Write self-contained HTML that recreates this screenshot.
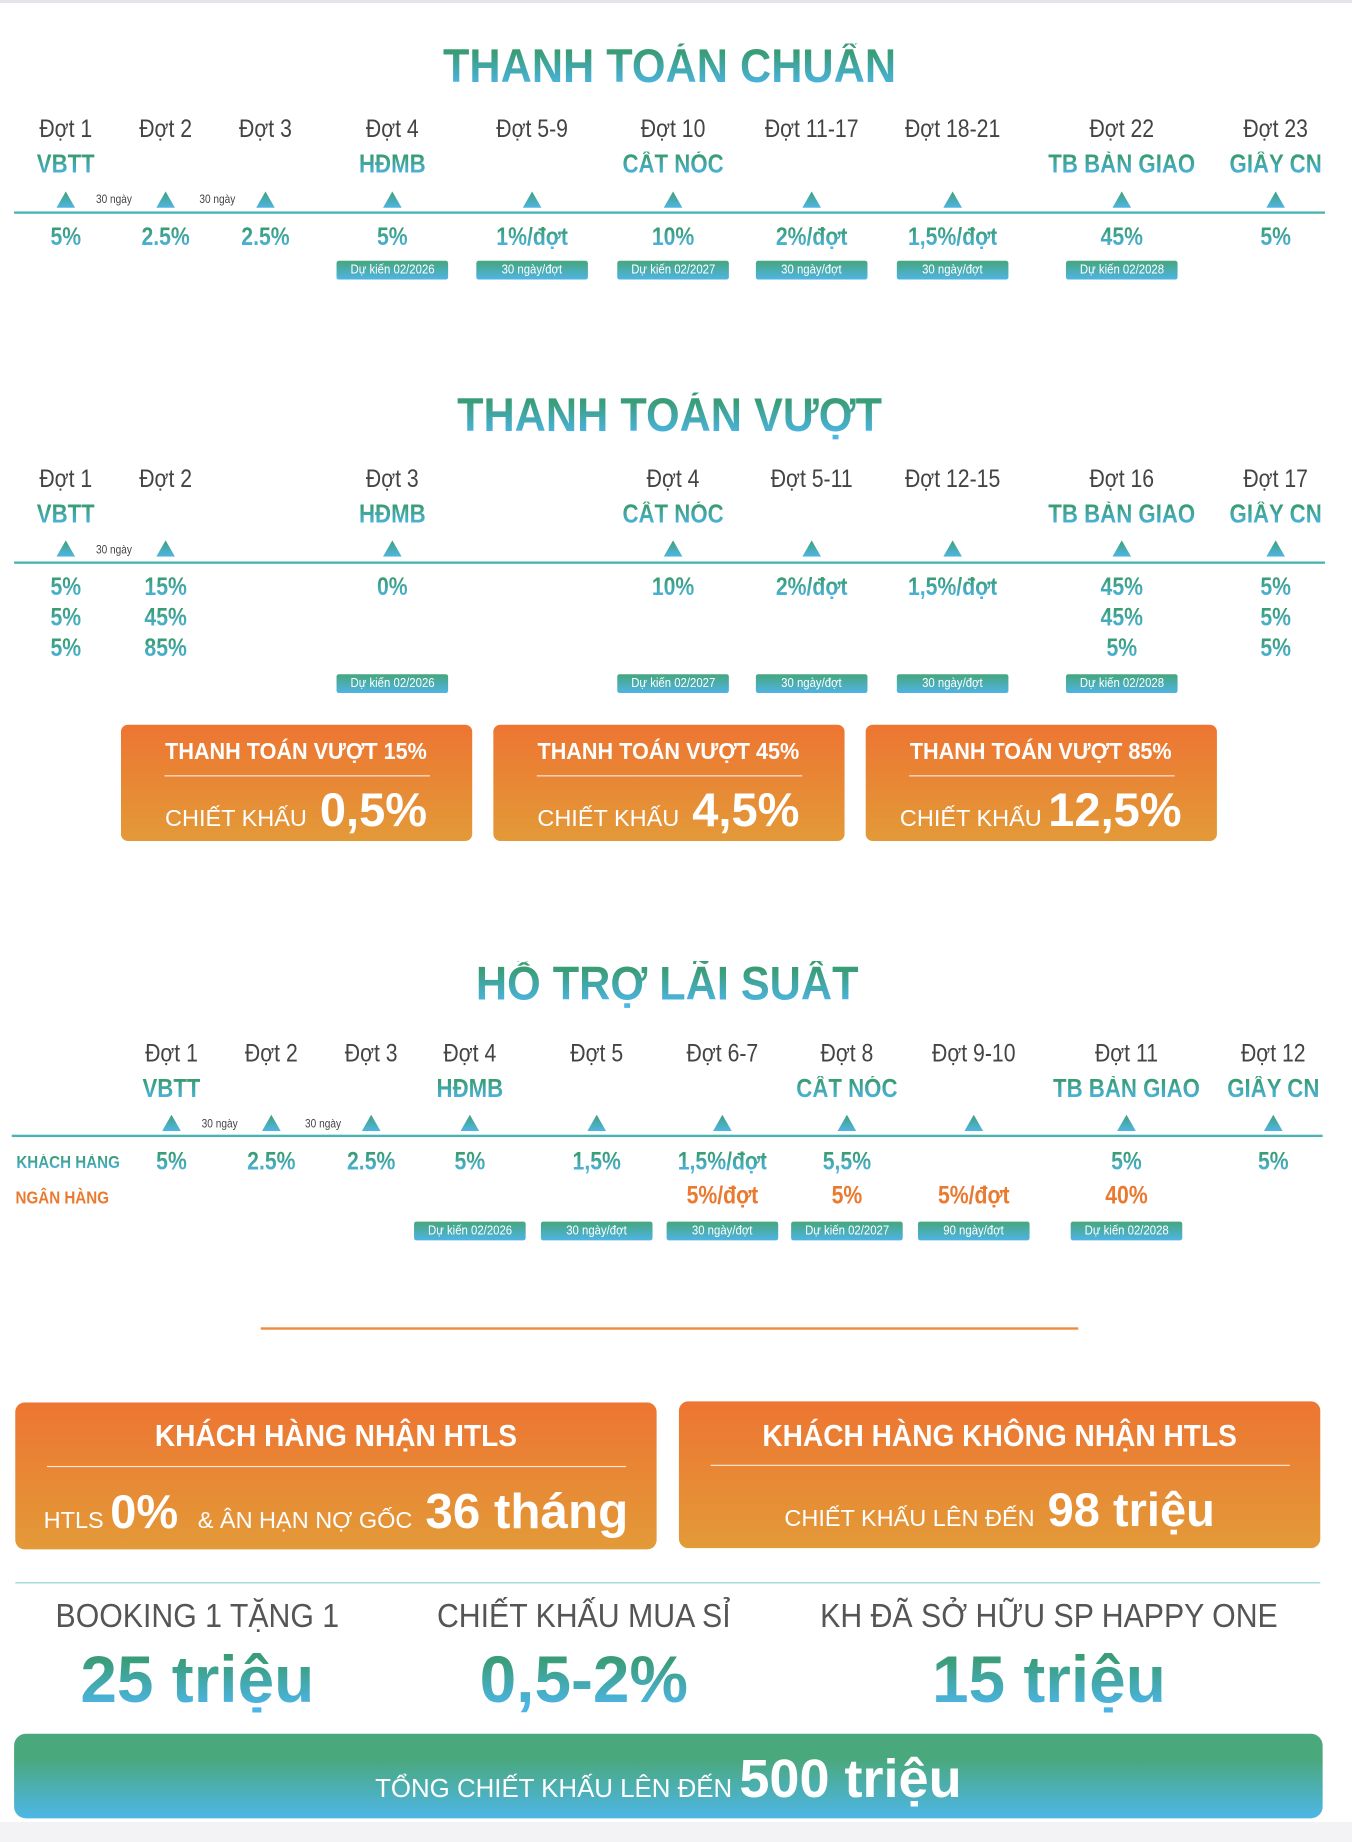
<!DOCTYPE html>
<html><head><meta charset="utf-8"><style>
html,body{margin:0;padding:0;}
body{width:1352px;height:1842px;overflow:hidden;background:#fff;position:relative;font-family:"Liberation Sans","Noto Sans CJK SC",sans-serif;}
#w{position:absolute;left:0;top:0;width:1151px;height:1568px;transform:scale(1.17463);transform-origin:0 0;}
.c{position:absolute;transform:translate(-50%,-50%) scaleX(0.86);white-space:nowrap;line-height:1;}
.c.s1{transform:translate(-50%,-50%) scaleX(1);}
.c.s9{transform:translate(-50%,-50%) scaleX(0.92);}
.g{background:linear-gradient(#3a9d78 20%,#4cb5e6 90%);-webkit-background-clip:text;background-clip:text;color:transparent;font-weight:bold;}
.d{color:#444;font-size:21px;}
.l{font-size:22px;}
.v{font-size:21px;}
.o{color:#ea7a30;font-weight:bold;font-size:21px;}
.tri{position:absolute;width:16px;height:14px;transform:translate(-50%,-50%);background:linear-gradient(#3f9f7c,#4fb6e4);clip-path:polygon(50% 0,100% 100%,0 100%);}
.n{color:#444;font-size:10px;}
.tag{position:absolute;width:95px;height:16px;transform:translate(-50%,-50%);background:linear-gradient(#46a67c,#4fb4e4);color:#fff;font-size:11px;text-align:center;line-height:16px;border-radius:2px;white-space:nowrap;}
.tag span{display:inline-block;transform:scaleX(0.88);}
.hl{position:absolute;height:2px;background:#4bb3b3;}
.ob{position:absolute;border-radius:6px;background:linear-gradient(#ed7532,#e39a38);}
.wl{position:absolute;height:1px;background:rgba(255,255,255,.8);}
.wt{color:#fff;}
.t{font-size:40px;}
</style></head><body>
<div style="position:absolute;left:0;top:0;width:1352px;height:3px;background:#e4e4ea"></div>
<div style="position:absolute;left:0;top:1822px;width:1352px;height:20px;background:#f3f3f5"></div>
<div id="w">
<!-- Section 1 -->
<div class="c g t s9" style="left:570px;top:57px">THANH TOÁN CHUẨN</div>
<div class="c d" style="left:56px;top:110px">Đợt 1</div>
<div class="c d" style="left:141px;top:110px">Đợt 2</div>
<div class="c d" style="left:226px;top:110px">Đợt 3</div>
<div class="c d" style="left:334px;top:110px">Đợt 4</div>
<div class="c d" style="left:453px;top:110px">Đợt 5-9</div>
<div class="c d" style="left:573px;top:110px">Đợt 10</div>
<div class="c d" style="left:691px;top:110px">Đợt 11-17</div>
<div class="c d" style="left:811px;top:110px">Đợt 18-21</div>
<div class="c d" style="left:955px;top:110px">Đợt 22</div>
<div class="c d" style="left:1086px;top:110px">Đợt 23</div>
<div class="c g l" style="left:56px;top:140px">VBTT</div>
<div class="c g l" style="left:334px;top:140px">HĐMB</div>
<div class="c g l" style="left:573px;top:140px">CẤT NÓC</div>
<div class="c g l" style="left:955px;top:140px">TB BÀN GIAO</div>
<div class="c g l" style="left:1086px;top:140px">GIẤY CN</div>
<div class="tri" style="left:56px;top:170px"></div><div class="tri" style="left:141px;top:170px"></div><div class="tri" style="left:226px;top:170px"></div><div class="tri" style="left:334px;top:170px"></div><div class="tri" style="left:453px;top:170px"></div><div class="tri" style="left:573px;top:170px"></div><div class="tri" style="left:691px;top:170px"></div><div class="tri" style="left:811px;top:170px"></div><div class="tri" style="left:955px;top:170px"></div><div class="tri" style="left:1086px;top:170px"></div>
<div class="c n" style="left:97px;top:171px">30 ngày</div>
<div class="c n" style="left:185px;top:171px">30 ngày</div>
<div class="hl" style="left:12px;top:180px;width:1116px"></div>
<div class="c g v" style="left:56px;top:202px">5%</div>
<div class="c g v" style="left:141px;top:202px">2.5%</div>
<div class="c g v" style="left:226px;top:202px">2.5%</div>
<div class="c g v" style="left:334px;top:202px">5%</div>
<div class="c g v" style="left:453px;top:202px">1%/đợt</div>
<div class="c g v" style="left:573px;top:202px">10%</div>
<div class="c g v" style="left:691px;top:202px">2%/đợt</div>
<div class="c g v" style="left:811px;top:202px">1,5%/đợt</div>
<div class="c g v" style="left:955px;top:202px">45%</div>
<div class="c g v" style="left:1086px;top:202px">5%</div>
<div class="tag" style="left:334px;top:230px"><span>Dự kiến 02/2026</span></div>
<div class="tag" style="left:453px;top:230px"><span>30 ngày/đợt</span></div>
<div class="tag" style="left:573px;top:230px"><span>Dự kiến 02/2027</span></div>
<div class="tag" style="left:691px;top:230px"><span>30 ngày/đợt</span></div>
<div class="tag" style="left:811px;top:230px"><span>30 ngày/đợt</span></div>
<div class="tag" style="left:955px;top:230px"><span>Dự kiến 02/2028</span></div>

<!-- Section 2 -->
<div class="c g t s9" style="left:570px;top:354px">THANH TOÁN VƯỢT</div>
<div class="c d" style="left:56px;top:408px">Đợt 1</div>
<div class="c d" style="left:141px;top:408px">Đợt 2</div>
<div class="c d" style="left:334px;top:408px">Đợt 3</div>
<div class="c d" style="left:573px;top:408px">Đợt 4</div>
<div class="c d" style="left:691px;top:408px">Đợt 5-11</div>
<div class="c d" style="left:811px;top:408px">Đợt 12-15</div>
<div class="c d" style="left:955px;top:408px">Đợt 16</div>
<div class="c d" style="left:1086px;top:408px">Đợt 17</div>
<div class="c g l" style="left:56px;top:438px">VBTT</div>
<div class="c g l" style="left:334px;top:438px">HĐMB</div>
<div class="c g l" style="left:573px;top:438px">CẤT NÓC</div>
<div class="c g l" style="left:955px;top:438px">TB BÀN GIAO</div>
<div class="c g l" style="left:1086px;top:438px">GIẤY CN</div>
<div class="tri" style="left:56px;top:467px"></div><div class="tri" style="left:141px;top:467px"></div><div class="tri" style="left:334px;top:467px"></div><div class="tri" style="left:573px;top:467px"></div><div class="tri" style="left:691px;top:467px"></div><div class="tri" style="left:811px;top:467px"></div><div class="tri" style="left:955px;top:467px"></div><div class="tri" style="left:1086px;top:467px"></div>
<div class="c n" style="left:97px;top:469px">30 ngày</div>
<div class="hl" style="left:12px;top:478px;width:1116px"></div>
<div class="c g v" style="left:56px;top:500px">5%</div>
<div class="c g v" style="left:56px;top:526px">5%</div>
<div class="c g v" style="left:56px;top:552px">5%</div>
<div class="c g v" style="left:141px;top:500px">15%</div>
<div class="c g v" style="left:141px;top:526px">45%</div>
<div class="c g v" style="left:141px;top:552px">85%</div>
<div class="c g v" style="left:334px;top:500px">0%</div>
<div class="c g v" style="left:573px;top:500px">10%</div>
<div class="c g v" style="left:691px;top:500px">2%/đợt</div>
<div class="c g v" style="left:811px;top:500px">1,5%/đợt</div>
<div class="c g v" style="left:955px;top:500px">45%</div>
<div class="c g v" style="left:955px;top:526px">45%</div>
<div class="c g v" style="left:955px;top:552px">5%</div>
<div class="c g v" style="left:1086px;top:500px">5%</div>
<div class="c g v" style="left:1086px;top:526px">5%</div>
<div class="c g v" style="left:1086px;top:552px">5%</div>
<div class="tag" style="left:334px;top:582px"><span>Dự kiến 02/2026</span></div>
<div class="tag" style="left:573px;top:582px"><span>Dự kiến 02/2027</span></div>
<div class="tag" style="left:691px;top:582px"><span>30 ngày/đợt</span></div>
<div class="tag" style="left:811px;top:582px"><span>30 ngày/đợt</span></div>
<div class="tag" style="left:955px;top:582px"><span>Dự kiến 02/2028</span></div>

<div class="ob" style="left:103px;top:617px;width:299px;height:99px"></div>
<div class="ob" style="left:420px;top:617px;width:299px;height:99px"></div>
<div class="ob" style="left:737px;top:617px;width:299px;height:99px"></div>
<div class="c wt s9" style="left:252px;top:640px;font-size:20px;font-weight:bold">THANH TOÁN VƯỢT 15%</div>
<div class="c wt s9" style="left:569px;top:640px;font-size:20px;font-weight:bold">THANH TOÁN VƯỢT 45%</div>
<div class="c wt s9" style="left:886px;top:640px;font-size:20px;font-weight:bold">THANH TOÁN VƯỢT 85%</div>
<div class="wl" style="left:140px;top:660px;width:226px"></div>
<div class="wl" style="left:457px;top:660px;width:226px"></div>
<div class="wl" style="left:774px;top:660px;width:226px"></div>
<div class="c wt s1" style="left:252px;top:690px;font-size:20px">CHIẾT KHẤU&nbsp; <b style="font-size:40px">0,5%</b></div>
<div class="c wt s1" style="left:569px;top:690px;font-size:20px">CHIẾT KHẤU&nbsp; <b style="font-size:40px">4,5%</b></div>
<div class="c wt s1" style="left:886px;top:690px;font-size:20px">CHIẾT KHẤU <b style="font-size:40px">12,5%</b></div>

<!-- Section 3 -->
<div class="c g t s9" style="left:568px;top:838px">HỖ TRỢ LÃI SUẤT</div>
<div class="c d" style="left:146px;top:897px">Đợt 1</div>
<div class="c d" style="left:231px;top:897px">Đợt 2</div>
<div class="c d" style="left:316px;top:897px">Đợt 3</div>
<div class="c d" style="left:400px;top:897px">Đợt 4</div>
<div class="c d" style="left:508px;top:897px">Đợt 5</div>
<div class="c d" style="left:615px;top:897px">Đợt 6-7</div>
<div class="c d" style="left:721px;top:897px">Đợt 8</div>
<div class="c d" style="left:829px;top:897px">Đợt 9-10</div>
<div class="c d" style="left:959px;top:897px">Đợt 11</div>
<div class="c d" style="left:1084px;top:897px">Đợt 12</div>
<div class="c g l" style="left:146px;top:927px">VBTT</div>
<div class="c g l" style="left:400px;top:927px">HĐMB</div>
<div class="c g l" style="left:721px;top:927px">CẤT NÓC</div>
<div class="c g l" style="left:959px;top:927px">TB BÀN GIAO</div>
<div class="c g l" style="left:1084px;top:927px">GIẤY CN</div>
<div class="tri" style="left:146px;top:956px"></div><div class="tri" style="left:231px;top:956px"></div><div class="tri" style="left:316px;top:956px"></div><div class="tri" style="left:400px;top:956px"></div><div class="tri" style="left:508px;top:956px"></div><div class="tri" style="left:615px;top:956px"></div><div class="tri" style="left:721px;top:956px"></div><div class="tri" style="left:829px;top:956px"></div><div class="tri" style="left:959px;top:956px"></div><div class="tri" style="left:1084px;top:956px"></div>
<div class="c n" style="left:187px;top:958px">30 ngày</div>
<div class="c n" style="left:275px;top:958px">30 ngày</div>
<div class="hl" style="left:10px;top:966px;width:1116px"></div>
<div class="c g" style="left:58px;top:990px;font-size:15px">KHÁCH HÀNG</div>
<div class="c o" style="left:53px;top:1020px;font-size:15px">NGÂN HÀNG</div>
<div class="c g v" style="left:146px;top:989px">5%</div>
<div class="c g v" style="left:231px;top:989px">2.5%</div>
<div class="c g v" style="left:316px;top:989px">2.5%</div>
<div class="c g v" style="left:400px;top:989px">5%</div>
<div class="c g v" style="left:508px;top:989px">1,5%</div>
<div class="c g v" style="left:615px;top:989px">1,5%/đợt</div>
<div class="c g v" style="left:721px;top:989px">5,5%</div>
<div class="c g v" style="left:959px;top:989px">5%</div>
<div class="c g v" style="left:1084px;top:989px">5%</div>
<div class="c o" style="left:615px;top:1018px">5%/đợt</div>
<div class="c o" style="left:721px;top:1018px">5%</div>
<div class="c o" style="left:829px;top:1018px">5%/đợt</div>
<div class="c o" style="left:959px;top:1018px">40%</div>
<div class="tag" style="left:400px;top:1048px"><span>Dự kiến 02/2026</span></div>
<div class="tag" style="left:508px;top:1048px"><span>30 ngày/đợt</span></div>
<div class="tag" style="left:615px;top:1048px"><span>30 ngày/đợt</span></div>
<div class="tag" style="left:721px;top:1048px"><span>Dự kiến 02/2027</span></div>
<div class="tag" style="left:829px;top:1048px"><span>90 ngày/đợt</span></div>
<div class="tag" style="left:959px;top:1048px"><span>Dự kiến 02/2028</span></div>

<div style="position:absolute;left:222px;top:1130px;width:696px;height:1.5px;background:#ee8a3a"></div>

<div class="ob" style="left:13px;top:1194px;width:546px;height:125px;border-radius:8px"></div>
<div class="ob" style="left:578px;top:1193px;width:546px;height:125px;border-radius:8px"></div>
<div class="c wt s9" style="left:286px;top:1222px;font-size:26px;font-weight:bold">KHÁCH HÀNG NHẬN HTLS</div>
<div class="c wt s9" style="left:851px;top:1222px;font-size:26px;font-weight:bold">KHÁCH HÀNG KHÔNG NHẬN HTLS</div>
<div class="wl" style="left:40px;top:1248px;width:493px"></div>
<div class="wl" style="left:605px;top:1247px;width:493px"></div>
<div class="c wt s1" style="left:286px;top:1287px;font-size:20px">HTLS <b style="font-size:40px">0%</b>&nbsp;&nbsp; &amp; ÂN HẠN NỢ GỐC&nbsp; <b style="font-size:42px">36 tháng</b></div>
<div class="c wt s1" style="left:851px;top:1286px;font-size:20px">CHIẾT KHẤU LÊN ĐẾN&nbsp; <b style="font-size:40px">98 triệu</b></div>

<div style="position:absolute;left:13px;top:1347px;width:1111px;height:1px;background:#8fd3d3"></div>
<div class="c s9" style="left:168px;top:1376px;font-size:28px;color:#555">BOOKING 1 TẶNG 1</div>
<div class="c s9" style="left:497px;top:1376px;font-size:28px;color:#555">CHIẾT KHẤU MUA SỈ</div>
<div class="c s9" style="left:893px;top:1376px;font-size:28px;color:#555">KH ĐÃ SỞ HỮU SP HAPPY ONE</div>
<div class="c g s1" style="left:168px;top:1430px;font-size:56px">25 triệu</div>
<div class="c g s1" style="left:497px;top:1430px;font-size:56px">0,5-2%</div>
<div class="c g s1" style="left:893px;top:1430px;font-size:56px">15 triệu</div>

<div style="position:absolute;left:12px;top:1476px;width:1114px;height:72px;border-radius:10px;background:linear-gradient(#4aa87d 30%,#4eb6e8)"></div>
<div class="c wt s1" style="left:569px;top:1514px;font-size:22px">TỔNG CHIẾT KHẤU LÊN ĐẾN <b style="font-size:46px">500 triệu</b></div>
</div>
</body></html>
